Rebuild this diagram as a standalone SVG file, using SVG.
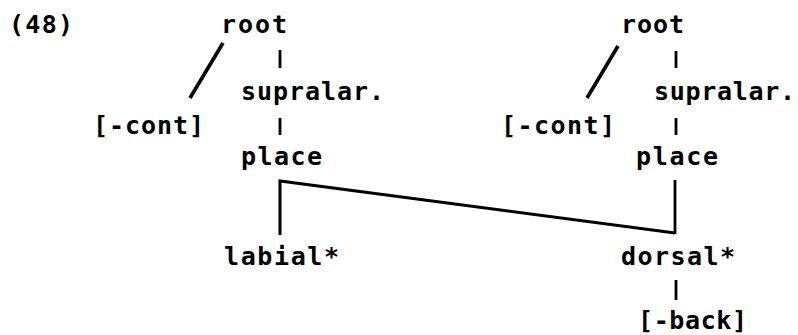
<svg xmlns="http://www.w3.org/2000/svg" width="798" height="335" viewBox="0 0 798 335">
<style>
text { font-family: "DejaVu Sans Mono", "Liberation Mono", monospace; font-weight: bold; font-size: 25px; fill: #000; }
line { stroke: #000; stroke-width: 2.8; stroke-linecap: butt; fill: none; }
.slash { stroke-width: 3.6; }
</style>
<rect width="798" height="335" fill="#fff"/>
<g id="label-48"><text x="9" y="33" textLength="64" lengthAdjust="spacing">(48)</text></g>
<g id="root-left"><text x="221" y="33" textLength="66" lengthAdjust="spacing">root</text></g>
<g id="supralar-left"><text x="241" y="100" textLength="143" lengthAdjust="spacing">supralar.</text></g>
<g id="cont-left"><text x="93" y="134" textLength="111" lengthAdjust="spacing">[-cont]</text></g>
<g id="place-left"><text x="241" y="165" textLength="81" lengthAdjust="spacing">place</text></g>
<g id="labial"><text x="224" y="265" textLength="115" lengthAdjust="spacing">labial*</text></g>
<g id="root-right"><text x="621" y="33" textLength="63" lengthAdjust="spacing">root</text></g>
<g id="supralar-right"><text x="654" y="100" textLength="141" lengthAdjust="spacing">supralar.</text></g>
<g id="cont-right"><text x="501" y="134" textLength="114" lengthAdjust="spacing">[-cont]</text></g>
<g id="place-right"><text x="636" y="165" textLength="82" lengthAdjust="spacing">place</text></g>
<g id="dorsal"><text x="621" y="265" textLength="114" lengthAdjust="spacing">dorsal*</text></g>
<g id="back"><text x="638" y="329" textLength="109" lengthAdjust="spacing">[-back]</text></g>
<g id="connectors">
<line class="slash" x1="223" y1="43" x2="190" y2="98"/>
<line x1="280" y1="50" x2="280" y2="68"/>
<line x1="280" y1="118" x2="280" y2="135"/>
<line class="slash" x1="618" y1="46" x2="587" y2="98"/>
<line x1="676" y1="51" x2="676" y2="68"/>
<line x1="676" y1="118" x2="676" y2="135"/>
<polyline points="280,235 280,181 675,233" fill="none" stroke="#000" stroke-width="3" stroke-linejoin="miter"/>
<line x1="675" y1="180" x2="675" y2="234" stroke-width="3.2"/>
<line x1="676" y1="280" x2="676" y2="300"/>
</g>
</svg>
